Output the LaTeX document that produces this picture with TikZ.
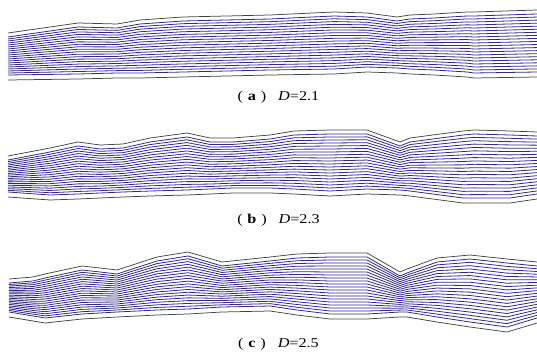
\documentclass[tikz,border=0pt]{standalone}
\usepackage{fontspec}
\setmainfont{Liberation Serif}
\usepackage{xcolor}
\definecolor{wallgray}{RGB}{62,72,66}
\definecolor{streamblue}{RGB}{48,42,132}

\newcommand{\chanA}{8/33/80, 78/23/79, 117/24/78, 140/20/78, 183/17/77, 270/15/75,
  334/12/74, 367/13/72, 397/17/73, 410/15/74, 434/14/75, 467/12/77, 474/12/78, 537/10/77}
\newcommand{\chanB}{8/156/197, 50/148/200, 78/142/199, 100/145/198, 123/144/197,
  150/138/196, 187/133/195, 210/138/194, 233/138/193, 270/135/193, 294/131/194,
  330/130/196, 367/130/194, 400/142/195, 410/138/196, 463/131/203, 474/130/203,
  510/131/203, 537/132/199}
\newcommand{\chanC}{9/279/317, 33/277/321, 45/274/323, 82/266/319, 100/268/318,
  117/270/317, 157/257/315, 188/252/314, 222/262/312, 270/257/311, 297/254/315,
  330/253/319, 367/253/319, 400/272/317, 407/269/317, 437/258/322, 470/255/327,
  507/259/332, 537/262/323}

\newcommand{\channel}[4]{%
  \draw[wall] (#2,#3) \foreach \x/\a/\b in #1 { -- (\x,\a) };
  \draw[wall] (#2,#4) \foreach \x/\a/\b in #1 { -- (\x,\b) };
  \foreach \i in {0,...,19} {
    \pgfmathsetmacro{\ratio}{\i/19}
    \draw[stream] (#2,{#3+4+\ratio*(#4-#3-9)})
      \foreach \x/\a/\b in #1 { -- (\x,{\a+4+\ratio*(\b-\a-9)}) };
  }}
\newcommand{\subcaption}[2]{\scalebox{1.2}[1]{(\hspace{4pt}\textbf{#1}\hspace{4pt})\hspace{10pt}\textit{D}=#2}}

\begin{document}
\begin{tikzpicture}[x=1pt, y=-1pt,
  wall/.style={draw=wallgray, line width=0.75pt, line join=round},
  stream/.style={draw=streamblue, line width=0.8pt, line join=round},
  subcap/.style={font=\fontsize{13.5}{15}\selectfont, inner sep=0pt}
]
\useasboundingbox (0,0) rectangle (537,358);

\channel{\chanA}{8}{33}{80}
\channel{\chanB}{8}{156}{197}
\channel{\chanC}{9}{279}{317}

\node[subcap] (capA) at (278.5,97) {\subcaption{a}{2.1}};
\node[subcap] (capB) at (278.5,220) {\subcaption{b}{2.3}};
\node[subcap] (capC) at (278.5,344) {\subcaption{c}{2.5}};
\end{tikzpicture}
\end{document}
